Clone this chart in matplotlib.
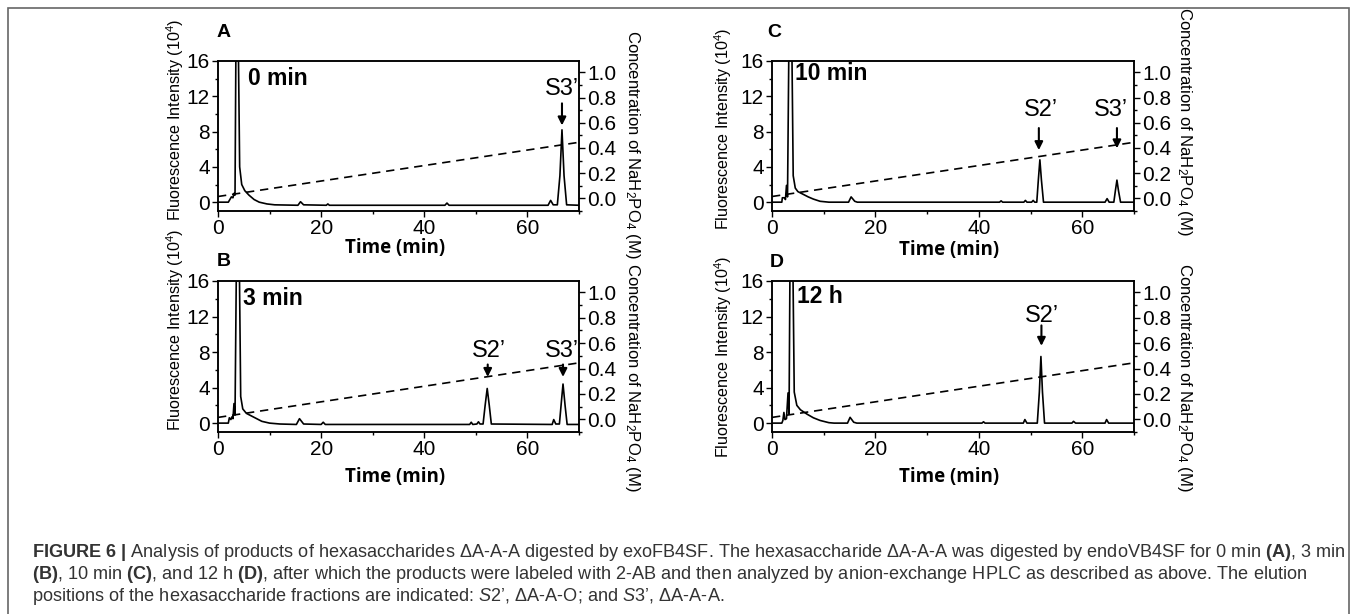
import matplotlib
matplotlib.use("Agg")
import matplotlib.pyplot as plt
from matplotlib.ticker import MultipleLocator, FormatStrFormatter
from matplotlib.patches import Rectangle

plt.rcParams['font.family'] = ['Liberation Sans', 'DejaVu Sans']
plt.rcParams['mathtext.fontset'] = 'custom'
plt.rcParams['mathtext.rm'] = 'Liberation Sans'
plt.rcParams['mathtext.bf'] = 'Liberation Sans:bold'
plt.rcParams['mathtext.it'] = 'Liberation Sans:italic'
plt.rcParams['mathtext.default'] = 'regular'

# ---- data ----
gradient_time = [0, 70]
gradient_conc = [0.015, 0.445]   # NaH2PO4 (M)

time_a = [0, 2.0, 2.3, 2.6, 2.9, 3.1, 3.3, 3.5, 3.9, 4.2, 4.6, 5.2, 6.0, 7.0, 8.0, 9.5, 11,
          15.5, 16.0, 16.6, 21.0, 21.3, 21.6, 44.0, 44.4, 44.8, 64.0, 64.5, 65.0, 65.8,
          66.3, 66.7, 67.1, 67.6, 70]
signal_a = [0.0, 0.0, 0.3, 0.6, 0.5, 1.0, 0.8, 20, 20, 4.0, 2.0, 1.3, 0.8, 0.3, 0.0, -0.2, -0.3,
            -0.35, 0.05, -0.3, -0.35, -0.2, -0.35, -0.35, -0.1, -0.35, -0.35, 0.2, -0.3, -0.3,
            3.0, 8.2, 3.0, -0.3, -0.35]

time_b = [0, 2.0, 2.2, 2.5, 2.7, 2.9, 3.1, 3.3, 3.6, 4.1, 4.4, 4.8, 5.5, 6.5, 7.5, 8.5, 10, 12,
          15.2, 15.8, 16.6, 20.0, 20.4, 20.8, 48.8, 49.1, 49.4, 50.2, 50.5, 50.8, 51.4, 51.8,
          52.2, 52.6, 53.0, 64.8, 65.1, 65.5, 66.2, 66.6, 66.9, 67.3, 67.7, 70]
signal_b = [0.0, 0.0, 0.6, 0.4, 0.7, 0.5, 2.2, 0.9, 20, 20, 3.0, 1.6, 1.1, 0.8, 0.5, 0.2, 0.0, -0.1,
            -0.15, 0.5, -0.1, -0.15, 0.1, -0.15, -0.15, 0.1, -0.15, -0.1, 0.15, -0.1, -0.1, 2.0,
            3.9, 2.0, -0.1, -0.15, 0.4, -0.1, -0.1, 2.5, 4.4, 2.0, -0.15, -0.15]

time_c = [0, 1.9, 2.0, 2.4, 2.6, 2.8, 3.0, 3.3, 3.8, 4.1, 4.5, 5.0, 6.0, 7.0, 8.0, 9.3, 11,
          14.8, 15.3, 16.0, 16.5, 44.0, 44.3, 44.6, 48.7, 49.0, 49.3, 50.2, 50.5, 50.8, 51.2,
          51.5, 51.8, 52.1, 52.5, 64.4, 64.8, 65.2, 66.1, 66.4, 66.7, 67.0, 67.4, 70]
signal_c = [0.0, 0.0, 0.5, 0.5, 0.3, 1.9, 0.6, 20, 20, 3.0, 1.6, 1.2, 0.9, 0.6, 0.35, 0.1, 0.0,
            0.0, 0.6, 0.1, 0.0, 0.0, 0.15, 0.0, 0.0, 0.2, 0.0, 0.0, 0.2, 0.0, 0.0,
            2.5, 4.8, 2.5, 0.0, 0.0, 0.4, 0.0, 0.0, 1.3, 2.5, 1.3, 0.0, 0.0]

time_d = [0, 1.9, 2.1, 2.3, 2.5, 2.8, 3.1, 3.3, 3.5, 4.0, 4.3, 4.8, 5.5, 6.8, 8.0, 9.3, 11, 12,
          14.6, 15.1, 15.8, 16.4, 40.6, 40.9, 41.2, 48.6, 48.9, 49.3, 51.3, 51.7, 52.0, 52.3,
          52.7, 58.0, 58.3, 58.7, 64.4, 64.7, 65.1, 70]
signal_d = [0.0, 0.0, 0.3, 1.2, 0.4, 0.5, 3.4, 1.0, 20, 20, 3.5, 2.0, 1.5, 1.0, 0.6, 0.3, 0.05, 0.0,
            0.0, 0.65, 0.1, 0.0, 0.0, 0.15, 0.0, 0.0, 0.4, 0.0, 0.0, 3.5, 7.5, 3.5,
            0.0, 0.0, 0.2, 0.0, 0.0, 0.4, 0.0, 0.0]

panel_letters = ['A', 'B', 'C', 'D']
sample_times = ['0 min', '3 min', '10 min', '12 h']
traces = [(time_a, signal_a), (time_b, signal_b), (time_c, signal_c), (time_d, signal_d)]
# (label, arrow time) per panel
peak_marks = [
    [("S3\u2019", 66.7)],
    [("S2\u2019", 52.3), ("S3\u2019", 66.9)],
    [("S2\u2019", 51.6), ("S3\u2019", 66.7)],
    [("S2\u2019", 52.1)],
]

caption_lines = [
    r"$\mathbf{FIGURE\ 6\ |}$ Analysis of products of hexasaccharides ΔA-A-A digested by exoFB4SF. "
    r"The hexasaccharide ΔA-A-A was digested by endoVB4SF for 0 min $\mathbf{(A)}$, 3 min",
    r"$\mathbf{(B)}$, 10 min $\mathbf{(C)}$, and 12 h $\mathbf{(D)}$, after which the products were "
    r"labeled with 2-AB and then analyzed by anion-exchange HPLC as described as above. The elution",
    r"positions of the hexasaccharide fractions are indicated: $\mathit{S2’}$, ΔA-A-O; and "
    r"$\mathit{S3’}$, ΔA-A-A.",
]

# ---- layout ----
W, H = 1357, 614
axes_rect = [[218, 61, 361, 150], [218, 281, 361, 151],
             [772, 61, 362, 150], [772, 281, 362, 151]]   # left, top, width, height (px)
letter_pos = [(-0.005, 1.187), (-0.003, 1.126), (-0.014, 1.187), (-0.006, 1.12)]
time_text_pos = [(5.8, 14.0), (4.8, 14.0), (4.4, 14.6), (4.8, 14.2)]
ylabel_pos = [(-0.119, 0.607), (-0.119, 0.675), (-0.135, 0.547), (-0.135, 0.497)]
y2label_pos = [(1.148, 0.447), (1.148, 0.364), (1.14, 0.60), (1.14, 0.36)]
xlabel_y = [-0.25, -0.30, -0.26, -0.30]
# arrow tip / tail / label heights (left axis units) and label x per mark
mark_geom = [
    [(8.7, 11.2, 12.8, 66.7)],
    [(5.2, 6.6, 8.1, 52.6), (5.2, 6.6, 8.1, 66.6)],
    [(5.9, 8.4, 10.4, 51.9), (6.1, 8.4, 10.4, 65.5)],
    [(8.7, 11.0, 12.1, 52.2)],
]
tick_size = 15

fig = plt.figure(figsize=(W / 100, H / 100), dpi=100)

for i in range(4):
    l, t, w, h = axes_rect[i]
    ax = fig.add_axes([l / W, 1 - (t + h) / H, w / W, h / H])
    x, y = traces[i]
    ax.plot(x, y, color='black', lw=1.2, zorder=3)
    ax.set_xlim(0, 70)
    ax.set_ylim(-1, 16)
    ax.xaxis.set_major_locator(MultipleLocator(20))
    ax.xaxis.set_minor_locator(MultipleLocator(10))
    ax.yaxis.set_major_locator(MultipleLocator(4))
    ax.yaxis.set_minor_locator(MultipleLocator(2))
    ax.tick_params(which='both', direction='out', width=1.0, labelsize=tick_size, pad=2)
    ax.tick_params(which='major', length=4)
    ax.tick_params(which='minor', length=2.5)
    for s in ax.spines.values():
        s.set_linewidth(1.1)
    ax.set_xlabel('Time (min)', fontfamily='Open Sans', fontweight='bold', fontsize=13.5)
    ax.xaxis.set_label_coords(0.49, xlabel_y[i])
    ax.xaxis.label.set_va('center')
    ax.set_ylabel(r'Fluorescence Intensity (10$^4$)', fontsize=11.6)
    ax.yaxis.set_label_coords(*ylabel_pos[i])
    ax.yaxis.label.set_va('center')

    ax2 = ax.twinx()
    ax2.plot(gradient_time, gradient_conc, color='black', lw=1.2, linestyle=(0, (5, 3.5)), zorder=2)
    ax2.set_ylim(-0.1, 1.09)
    ax2.yaxis.set_major_locator(MultipleLocator(0.2))
    ax2.yaxis.set_minor_locator(MultipleLocator(0.1))
    ax2.yaxis.set_major_formatter(FormatStrFormatter('%.1f'))
    ax2.tick_params(which='both', direction='out', width=1.0, labelsize=tick_size, pad=2)
    ax2.tick_params(which='major', length=4)
    ax2.tick_params(which='minor', length=2.5)
    ax2.set_ylabel(r'Concentration of NaH$_2$PO$_4$ (M)', fontsize=12, rotation=270)
    ax2.yaxis.set_label_coords(*y2label_pos[i])
    ax2.yaxis.label.set_va('center')
    for s in ax2.spines.values():
        s.set_linewidth(1.1)

    ax.text(letter_pos[i][0], letter_pos[i][1], panel_letters[i], transform=ax.transAxes,
            fontsize=14, fontweight='bold', ha='left', va='center')
    ax.text(time_text_pos[i][0], time_text_pos[i][1], sample_times[i], fontsize=16.5,
            fontweight='bold', ha='left', va='center')
    for (lab, tm), (tip, tail, ly, lx) in zip(peak_marks[i], mark_geom[i]):
        ax.annotate('', xy=(tm, tip), xytext=(tm, tail),
                    arrowprops=dict(arrowstyle='-|>', color='black', lw=1.5, mutation_scale=12,
                                    shrinkA=0, shrinkB=0))
        ax.text(lx, ly, lab, fontsize=17, ha='center', va='center')

# frame around figure + caption
fig.add_artist(Rectangle((8 / W, -0.05), (1349 - 8) / W, 1 - 8 / H + 0.05, transform=fig.transFigure,
                         fill=False, edgecolor='#666666', lw=1.2))

# caption, scaled to the width of the first line
cap_x = 32 / W
baselines = [557, 579, 601]
texts = []
for line, b in zip(caption_lines, baselines):
    texts.append(fig.text(cap_x, 1 - b / H, line, fontsize=10, color='#333333', ha='left', va='baseline'))
renderer = fig.canvas.get_renderer()
w0 = texts[0].get_window_extent(renderer).width
size = 10 * (1345 - 32) / w0
for tx in texts:
    tx.set_fontsize(size)

fig.savefig('out.png', dpi=100)
